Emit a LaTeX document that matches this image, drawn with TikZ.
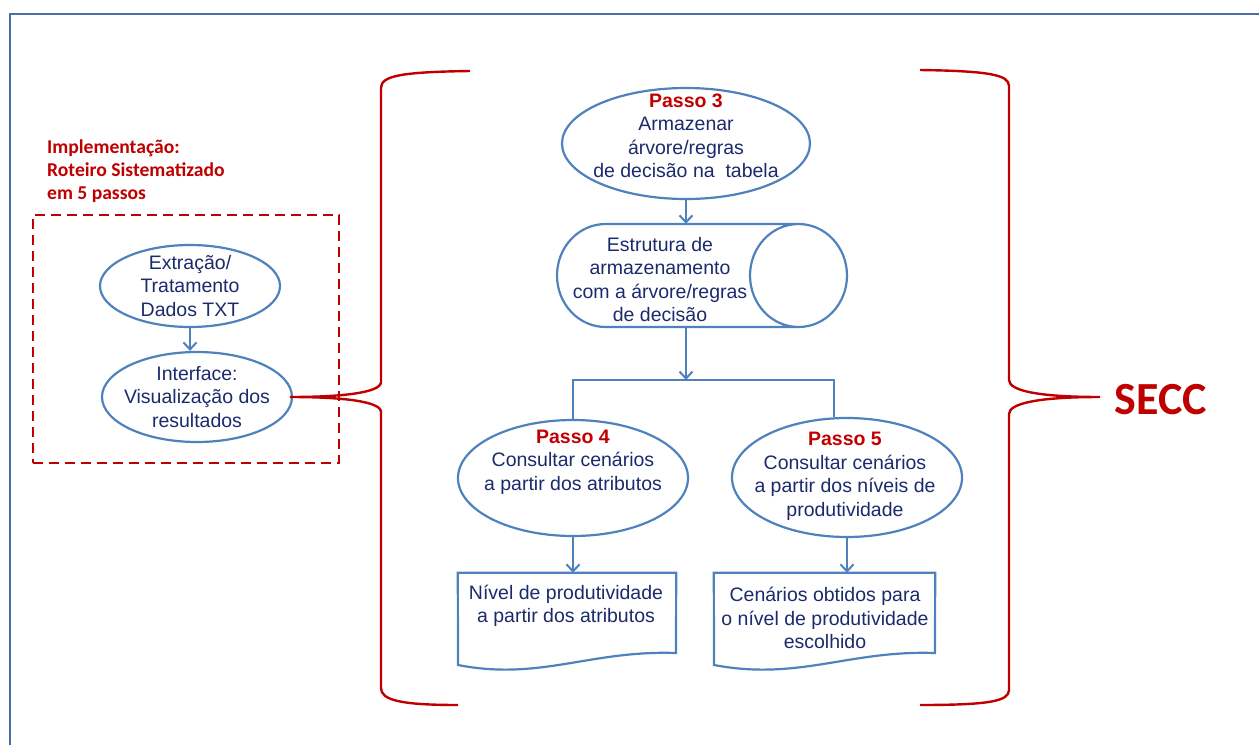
\documentclass[tikz,border=0pt]{standalone}
\usepackage{fontspec}
\setmainfont{Liberation Sans}
\newfontfamily\labelfont{Carlito}
\usetikzlibrary{arrows.meta,shapes.geometric}
\definecolor{shapeblue}{HTML}{4F81BD}
\definecolor{textnavy}{HTML}{1B2A6B}
\definecolor{darkred}{HTML}{C00000}
\definecolor{framecol}{HTML}{4A6EA5}
\newcommand{\passo}[1]{\textcolor{darkred}{\bfseries Passo #1}}
\begin{document}
\begin{tikzpicture}[x=1pt,y=1pt,
  shapeline/.style={draw=shapeblue,line width=2.2pt},
  oval/.style={shapeline,ellipse,inner sep=0pt},
  holder/.style={inner sep=0pt},
  txt/.style={text=textnavy,align=center,font=\fontsize{19.5}{23.5}\selectfont},
  flow/.style={draw=shapeblue,line width=2pt,-{Straight Barb[length=7pt,width=13pt,line width=2pt]}},
  splitline/.style={draw=shapeblue,line width=2pt},
  brace/.style={draw=darkred,line width=2.4pt},
]
\useasboundingbox (0,0) rectangle (1259,-745);

% outer frame
\draw[framecol,line width=2pt] (1259,-14) -- (10,-14) -- (10,-745);

% implementation label and dashed group
\node[anchor=west,align=left,text=darkred,inner sep=0pt,
      font=\labelfont\bfseries\fontsize{19.6}{23}\selectfont] (impllabel) at (47,-171)
  {Implementação:\\Roteiro Sistematizado\\em 5 passos};
\node[draw=darkred,line width=2pt,dash pattern=on 10pt off 6pt,
      minimum width=306,minimum height=248,inner sep=0pt] (impl) at (186,-339) {};

\node[oval,minimum width=180,minimum height=82] (ext) at (190,-286) {};
\node[txt] (extt) at (190,-286) {Extração/\\Tratamento\\Dados TXT};
\node[oval,minimum width=190,minimum height=90] (vis) at (197,-397) {};
\node[txt] (vist) at (197,-397) {Interface:\\Visualização dos\\resultados};
\draw[flow] (ext.south) -- (ext.south |- vis.north);

% step 3
\node[oval,minimum width=248,minimum height=111] (p3) at (686,-143.5) {};
\node[txt] (p3t) at (686,-136) {\passo{3}\\Armazenar\\árvore/regras\\de decisão na\ \ tabela};

% storage (horizontal cylinder)
\node[holder,minimum width=290,minimum height=103] (store) at (702,-275.5) {};
\draw[shapeline] (605.5,-224) -- (798.5,-224)
  (605.5,-327) -- (798.5,-327)
  (605.5,-224) arc[start angle=90,end angle=270,x radius=48.5,y radius=51.5]
  (798.5,-275.5) ellipse[x radius=48.5,y radius=51.5];
\node[txt] (storet) at (660,-279.5) {Estrutura de\\armazenamento\\com a árvore/regras\\de decisão};
\draw[flow] (p3.south) -- (p3.south |- store.north);

% steps 4 and 5
\node[oval,minimum width=230,minimum height=116] (p4) at (573,-478) {};
\node[txt] (p4t) at (573,-462) {\passo{4}\\Consultar cenários\\a partir dos atributos};
\node[oval,minimum width=230,minimum height=119] (p5) at (847,-477.5) {};
\node[txt] (p5t) at (845,-476.5) {\passo{5}\\Consultar cenários\\a partir dos níveis de\\produtividade};

\coordinate (split) at (686,-380);
\coordinate (splitL) at (573,-380);
\coordinate (splitR) at (834,-380);
\draw[flow] (p3.south |- store.south) -- (split);
\draw[splitline] (splitL |- p4.north) -- (splitL) -- (splitR) -- (splitR |- p5.north);

% documents
\node[holder,minimum width=218,minimum height=94] (doc1) at (567,-620) {};
\draw[shapeline] (doc1.north west) -- (doc1.north east) -- (676,-653)
  .. controls (590,-650) and (540,-681) .. (458,-665) -- cycle;
\node[txt] (doc1t) at (566,-606) {Nível de produtividade\\a partir dos atributos};

\node[holder,minimum width=221,minimum height=94] (doc2) at (824.5,-620) {};
\draw[shapeline] (doc2.north west) -- (doc2.north east) -- (935,-653)
  .. controls (849,-650) and (799,-681) .. (714,-665) -- cycle;
\node[txt] (doc2t) at (825,-618) {Cenários obtidos para\\o nível de produtividade\\escolhido};

\draw[flow] (p4.south) -- (p4.south |- doc1.north);
\draw[flow] (p5.south) -- (p5.south |- doc2.north);

% braces
\coordinate (tipL) at (290,-397);
\coordinate (tipR) at (1100,-397);
\draw[brace] (470,-71) .. controls (400,-72) and (381,-76) .. (381,-88) -- (381,-382)
  .. controls (381,-393) and (340,-397) .. (tipL)
  .. controls (340,-397) and (381,-401) .. (381,-412) -- (381,-688)
  .. controls (381,-700) and (400,-705) .. (458,-705);
\draw[brace] (920,-70) .. controls (990,-71) and (1009,-75) .. (1009,-86) -- (1009,-380)
  .. controls (1009,-391) and (1040,-397) .. (tipR)
  .. controls (1040,-397) and (1009,-403) .. (1009,-414) -- (1009,-690)
  .. controls (1009,-701) and (990,-705) .. (920,-705);

\node[text=darkred,font=\labelfont\bfseries\fontsize{46}{50}\selectfont] (secc) at (1161,-400) {SECC};
\end{tikzpicture}
\end{document}
